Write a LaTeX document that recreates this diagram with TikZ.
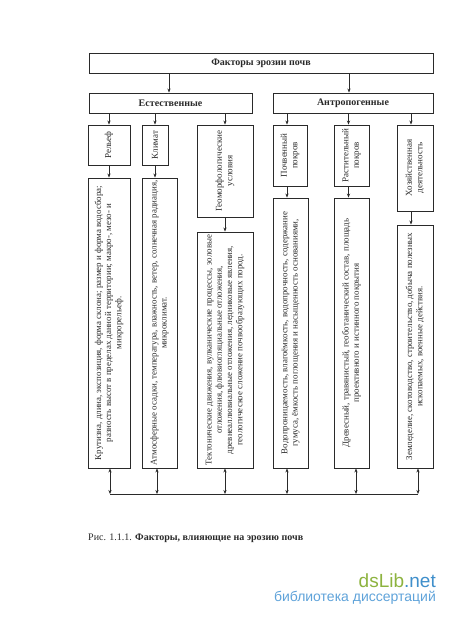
\documentclass[tikz,border=0pt]{standalone}
\usepackage{fontspec}
\setmainfont{Liberation Serif}
\newfontfamily\wmfont{Liberation Sans}
\usetikzlibrary{arrows.meta}
\definecolor{ln}{HTML}{2A2A2A}
\definecolor{wmgreen}{HTML}{8DB33F}
\definecolor{wmblue}{HTML}{3F8FCB}
\definecolor{wmlight}{HTML}{5FA3DA}
\tikzset{
  box/.style={draw=ln, line width=0.9pt, inner sep=0pt},
  head/.style={font=\fontsize{10}{12}\selectfont\bfseries, text=ln},
  lab/.style={rotate=90, align=center, font=\fontsize{9}{10.5}\selectfont, inner sep=0pt, text=ln},
  det/.style={rotate=90, align=center, font=\fontsize{8.9}{10.2}\selectfont, inner sep=0pt, text=ln},
  arr/.style={-{Stealth[length=4pt,width=3.2pt]}, draw=ln, line width=0.8pt},
  darr/.style={{Stealth[length=4pt,width=3.2pt]}-{Stealth[length=4pt,width=3.2pt]}, draw=ln, line width=0.8pt},
  bus/.style={draw=ln, line width=0.8pt},
}
\begin{document}
\begin{tikzpicture}[x=1pt,y=-1pt]
\fill[white] (0,0) rectangle (450,618);
\useasboundingbox (0,0) rectangle (450,618);

% level 1 and 2
\node[box, head, minimum width=344pt, minimum height=20pt] (top) at (261,63) {Факторы эрозии почв};
\node[box, head, minimum width=163pt, minimum height=20pt] (nat) at (170.5,103) {Естественные};
\node[box, head, minimum width=160pt, minimum height=20pt] (ant) at (353,103) {Антропогенные};
\draw[arr] ([xshift=-1.5pt]nat.north |- top.south) -- ([xshift=-1.5pt]nat.north);
\draw[arr] ([xshift=-4pt]ant.north |- top.south) -- ([xshift=-4pt]ant.north);

% level 3
\node[box, minimum width=42pt, minimum height=40pt] (rel) at (109,145) {};
\node[lab] at (rel) {Рельеф};
\node[box, minimum width=26pt, minimum height=40pt] (kli) at (155,145) {};
\node[lab] at (kli) {Климат};
\node[box, minimum width=56pt, minimum height=92pt] (geo) at (225,171) {};
\node[lab] at (geo) {Геоморфологические\\условия};
\node[box, minimum width=34pt, minimum height=61pt] (poc) at (290,155.5) {};
\node[lab] at (poc) {Почвенный\\покров};
\node[box, minimum width=35pt, minimum height=61pt] (ras) at (351.5,155.5) {};
\node[lab] at (ras) {Растительный\\покров};
\node[box, minimum width=36pt, minimum height=86pt] (hoz) at (415,168) {};
\node[lab] at (hoz) {Хозяйственная\\деятельность};

\draw[arr] (nat.south -| rel) -- (rel.north);
\draw[arr] (nat.south -| kli) -- (kli.north);
\draw[arr] (nat.south -| geo) -- (geo.north);
\draw[arr] ([xshift=-3pt]poc.north |- ant.south) -- ([xshift=-3pt]poc.north);
\draw[arr] ([xshift=-3pt]ras.north |- ant.south) -- ([xshift=-3pt]ras.north);
\draw[arr] ([xshift=-4pt]hoz.north |- ant.south) -- ([xshift=-4pt]hoz.north);

% level 4
\node[box, minimum width=42pt, minimum height=290pt] (relD) at (109,323) {};
\node[det] at (relD) {Крутизна, длина, экспозиция, форма склона; размер и форма водосбора;\\разность высот в пределах данной территории; макро-, мезо- и\\микрорельеф.};
\node[box, minimum width=35pt, minimum height=290pt] (kliD) at (159.5,323) {};
\node[det] at (kliD) {Атмосферные осадки, температура, влажность, ветер, солнечная радиация,\\микроклимат.};
\node[box, minimum width=56pt, minimum height=236pt] (geoD) at (225,350) {};
\node[det] at (geoD) {Тектонические движения, вулканические процессы, эоловые\\отложения, флювиогляциальные отложения,\\древнеаллювиальные отложения, ледниковые явления,\\геологическое сложение почвообразующих пород.};
\node[box, minimum width=35pt, minimum height=270pt] (pocD) at (290.5,333) {};
\node[det] at (pocD) {Водопроницаемость, влагоёмкость, водопрочность, содержание\\гумуса, ёмкость поглощения и насыщенность основаниями,};
\node[box, minimum width=35pt, minimum height=270pt] (rasD) at (351.5,333) {};
\node[det] at (rasD) {Древесный, травянистый, геоботанический состав, площадь\\проективного и истинного покрытия};
\node[box, minimum width=36pt, minimum height=243pt] (hozD) at (415,346.5) {};
\node[det] at (hozD) {Земледелие, скотоводство, строительство, добыча полезных\\ископаемых, военные действия.};

\draw[arr] (rel.south) -- (rel.south |- relD.north);
\draw[arr] (kli.south) -- (kli.south |- kliD.north);
\draw[arr] (geo.south) -- (geo.south |- geoD.north);
\draw[arr] ([xshift=-3pt]poc.south) -- ([xshift=-3pt]poc.south |- pocD.north);
\draw[arr] ([xshift=-3pt]ras.south) -- ([xshift=-3pt]ras.south |- rasD.north);
\draw[arr] ([xshift=-4pt]hoz.south) -- ([xshift=-4pt]hoz.south |- hozD.north);

% bus
\coordinate (b1) at (110,494);
\coordinate (b2) at (157,494);
\coordinate (b3) at (225,494);
\coordinate (b4) at (287,494);
\coordinate (b5) at (356,494);
\coordinate (b6) at (418,494);
\draw[bus] (b1) -- (b6);
\draw[darr] (b1 |- relD.south) -- (b1);
\draw[darr] (b2 |- kliD.south) -- (b2);
\draw[darr] (b3 |- geoD.south) -- (b3);
\draw[darr] (b4 |- pocD.south) -- (b4);
\draw[darr] (b5 |- rasD.south) -- (b5);
\draw[darr] (b6 |- hozD.south) -- (b6);

% caption
\node[anchor=base west, inner sep=0pt, font=\fontsize{10}{12}\selectfont, text=ln] (cap) at (88,540) {Рис. 1.1.1. \textbf{Факторы, влияющие на эрозию почв}};

% watermark
\node[anchor=base east, inner sep=0pt, font=\wmfont\fontsize{19}{20}\selectfont] (wm1) at (436,587) {\textcolor{wmgreen}{dsLib}\textcolor{wmblue}{.net}};
\node[anchor=base east, inner sep=0pt, font=\wmfont\fontsize{14}{16}\selectfont, text=wmlight] (wm2) at (436,601) {библиотека диссертаций};
\end{tikzpicture}
\end{document}
